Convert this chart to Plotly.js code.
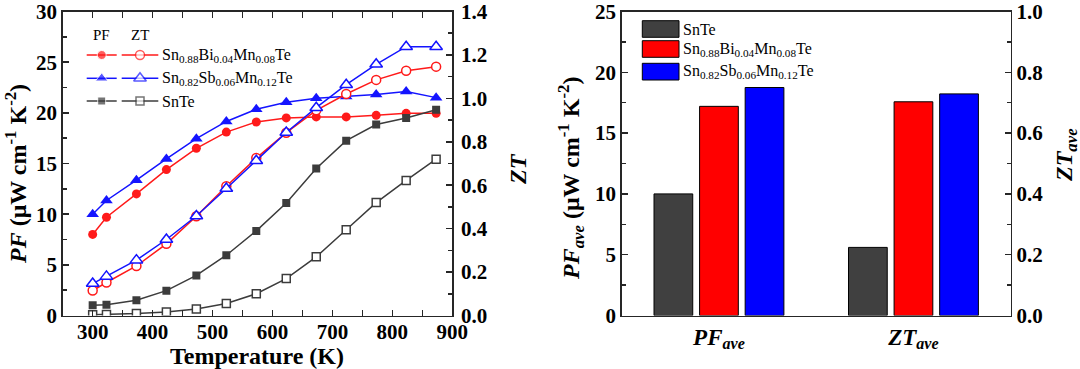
<!DOCTYPE html>
<html><head><meta charset="utf-8">
<script src="https://cdn.plot.ly/plotly-3.0.1.min.js"></script>
<style>html,body{margin:0;padding:0;background:#fff}#chart{width:1080px;height:369px}</style>
</head><body><div id="chart"></div>
<script>
// ---------------- DATA ----------------
const temperatures = [300, 323, 373, 423, 473, 523, 573, 623, 673, 723, 773, 823, 873];
const pfBi   = [8.0, 9.7, 12.0, 14.4, 16.5, 18.1, 19.1, 19.5, 19.6, 19.6, 19.75, 19.95, 19.95];
const pfSb   = [10.0, 11.35, 13.35, 15.45, 17.45, 19.15, 20.35, 21.05, 21.45, 21.6, 21.8, 22.1, 21.5];
const pfSnTe = [1.0, 1.05, 1.5, 2.45, 3.95, 5.95, 8.35, 11.1, 14.5, 17.25, 18.85, 19.5, 20.3];
const ztBi   = [0.115, 0.152, 0.228, 0.33, 0.457, 0.595, 0.725, 0.842, 0.945, 1.02, 1.085, 1.127, 1.146];
const ztSb   = [0.147, 0.18, 0.255, 0.35, 0.458, 0.585, 0.713, 0.843, 0.957, 1.063, 1.157, 1.238, 1.238];
const ztSnTe = [0.004, 0.005, 0.009, 0.016, 0.03, 0.055, 0.1, 0.17, 0.27, 0.395, 0.52, 0.622, 0.72];

const seriesNames = ['SnTe', 'Sn<sub>0.88</sub>Bi<sub>0.04</sub>Mn<sub>0.08</sub>Te', 'Sn<sub>0.82</sub>Sb<sub>0.06</sub>Mn<sub>0.12</sub>Te'];
const barCategories = ['PFave', 'ZTave'];
const barTickLabels = ['<b><i>PF</i></b><sub><b><i>ave</i></b></sub>', '<b><i>ZT</i></b><sub><b><i>ave</i></b></sub>'];
const pfAve = [10.0, 17.2, 18.75];   // SnTe, Bi, Sb
const ztAve = [0.224, 0.703, 0.729]; // SnTe, Bi, Sb

const axisTitles = {
  temp: 'Temperature (K)',
  pf: '<i>PF</i> (μW cm<sup>-1</sup> K<sup>-2</sup>)',
  zt: '<i>ZT</i>',
  pfAve: '<i>PF</i><sub><i>ave</i></sub> (μW cm<sup>-1</sup> K<sup>-2</sup>)',
  ztAve: '<i>ZT</i><sub><i>ave</i></sub>'
};

// ---------------- STYLE ----------------
const W = 1080, H = 369;
const px = x => x / W, py = y => 1 - y / H;
const FONT = 'Liberation Serif';
const AX = '#262626';
const RED = '#ff1a1a', BLUE = '#1414ff', GRAY = '#3c3c3c';
const barColors = ['#404040', '#ff0000', '#0000ff'];

const leftX = [px(62.7), px(452.3)], rightX = [px(621.7), px(1010.7)], plotY = [py(315.5), py(11.5)];

const lineSeries = [
  {pf: pfBi, zt: ztBi, color: RED, sym: 'circle', size: 9},
  {pf: pfSb, zt: ztSb, color: BLUE, sym: 'triangle-up', size: 11},
  {pf: pfSnTe, zt: ztSnTe, color: GRAY, sym: 'square', size: 8}
];

const traces = [];
lineSeries.forEach(s => {
  traces.push({x: temperatures, y: s.pf, xaxis: 'x', yaxis: 'y', mode: 'lines+markers', showlegend: false, hoverinfo: 'skip',
    line: {color: s.color, width: 1.5}, marker: {symbol: s.sym, size: s.size, color: s.color}});
  traces.push({x: temperatures, y: s.zt, xaxis: 'x', yaxis: 'y2', mode: 'lines+markers', showlegend: false, hoverinfo: 'skip',
    line: {color: s.color, width: 1.5}, marker: {symbol: s.sym, size: s.size, color: '#ffffff', line: {color: s.color, width: 1.5}}});
});

[0, 1, 2].forEach(i => {
  traces.push({type: 'bar', x: [barCategories[0]], y: [pfAve[i]], xaxis: 'x2', yaxis: 'y3', offsetgroup: 'g' + i, showlegend: false, hoverinfo: 'skip',
    marker: {color: barColors[i], line: {color: '#000', width: 1}}});
  traces.push({type: 'bar', x: [barCategories[1]], y: [ztAve[i]], xaxis: 'x2', yaxis: 'y4', offsetgroup: 'g' + i, showlegend: false, hoverinfo: 'skip',
    marker: {color: barColors[i], line: {color: '#000', width: 1}}});
});

// -------- legend glyphs (drawn on a hidden pixel-space overlay axis) --------
const legRowsL = [55, 78.3, 101];
const legendLineOrder = [0, 1, 2]; // Bi, Sb, SnTe
legendLineOrder.forEach((k, r) => {
  const s = lineSeries[k], y = legRowsL[r];
  traces.push({x: [86.7, 101.7, 116.7], y: [y, y, y], xaxis: 'x5', yaxis: 'y6', mode: 'lines+markers', showlegend: false, hoverinfo: 'skip',
    line: {color: s.color, width: 1.5}, marker: {symbol: s.sym, size: [0, s.size, 0], color: s.color}});
  traces.push({x: [121.7, 140, 158.3], y: [y, y, y], xaxis: 'x5', yaxis: 'y6', mode: 'lines+markers', showlegend: false, hoverinfo: 'skip',
    line: {color: s.color, width: 1.5}, marker: {symbol: s.sym, size: [0, s.size, 0], color: '#ffffff', line: {color: s.color, width: 1.5}}});
});
const legNamesL = [seriesNames[1], seriesNames[2], seriesNames[0]];
const legRowsR = [[20.7, 37.3], [40.7, 57.3], [63.3, 80]];

const annotations = [];
const shapes = [];
const tf = {family: FONT, size: 16, color: '#000'};
annotations.push({xref: 'x5', yref: 'y6', x: 101.7, y: 35, text: 'PF', showarrow: false, xanchor: 'center', yanchor: 'middle', font: {family: FONT, size: 15, color: '#000'}});
annotations.push({xref: 'x5', yref: 'y6', x: 140, y: 35, text: 'ZT', showarrow: false, xanchor: 'center', yanchor: 'middle', font: {family: FONT, size: 15, color: '#000'}});
legNamesL.forEach((n, r) => {
  annotations.push({xref: 'x5', yref: 'y6', x: 160, y: legRowsL[r], text: n, showarrow: false, xanchor: 'left', yanchor: 'middle', font: tf});
});
seriesNames.forEach((n, i) => {
  const [y0, y1] = legRowsR[i];
  shapes.push({type: 'rect', xref: 'x5', yref: 'y6', x0: 642.3, x1: 679, y0: y0, y1: y1, fillcolor: barColors[i], line: {color: '#000', width: 1}});
  annotations.push({xref: 'x5', yref: 'y6', x: 681, y: (y0 + y1) / 2, text: n, showarrow: false, xanchor: 'left', yanchor: 'middle', font: tf});
});

// axis titles placed as annotations (pixel overlay)
const titleFont = {family: FONT, size: 24, color: '#000', weight: 'bold'};
const addTitle = (text, x, y, angle) => annotations.push({xref: 'x5', yref: 'y6', x: x, y: y, text: text, textangle: angle, showarrow: false,
  xanchor: 'center', yanchor: 'middle', borderpad: 0, font: titleFont});
addTitle(axisTitles.temp, 257, 356, 0);
addTitle(axisTitles.pf, 16, 174, -90);
addTitle(axisTitles.zt, 518, 169, -90);
addTitle(axisTitles.pfAve, 571, 179, -90);
addTitle(axisTitles.ztAve, 1066, 155, -90);

const tickFont = {family: FONT, size: 21, color: '#000', weight: 'bold'};
const common = {showline: true, linecolor: AX, linewidth: 1.5, ticks: 'inside', ticklen: 6, tickwidth: 1.5, tickcolor: AX,
  showgrid: false, zeroline: false, tickfont: tickFont, fixedrange: true, ticklabeloverflow: 'allow'};
const minor = d => ({dtick: d, ticks: 'inside', ticklen: 4, tickwidth: 1.5, tickcolor: AX, showgrid: false});

const layout = {
  width: W, height: H, margin: {l: 0, r: 0, t: 0, b: 0},
  paper_bgcolor: '#fff', plot_bgcolor: 'rgba(0,0,0,0)',
  showlegend: false, barmode: 'group', bargap: 0.297, bargroupgap: 0.15,
  font: {family: FONT, color: '#000'},
  xaxis: Object.assign({}, common, {domain: leftX, anchor: 'y', range: [250, 900], tick0: 0, dtick: 100, minor: Object.assign(minor(50), {ticklen: 6}),
    mirror: 'allticks', ticklabelstandoff: -3}),
  yaxis: Object.assign({}, common, {domain: plotY, anchor: 'x', range: [0, 30], dtick: 5, minor: minor(2.5), mirror: true}),
  yaxis2: Object.assign({}, common, {overlaying: 'y', anchor: 'x', side: 'right', range: [0, 1.4], dtick: 0.2, minor: minor(0.1), tickformat: '.1f',
    ticklabelstandoff: 3}),
  xaxis2: Object.assign({}, common, {domain: rightX, anchor: 'y3', type: 'category', categoryarray: barCategories, range: [-0.5, 1.5],
    tickvals: barCategories, ticktext: barTickLabels, ticks: '', mirror: true, tickfont: {family: FONT, size: 23, color: '#000'}}),
  xaxis4: {overlaying: 'x2', anchor: 'y3', side: 'top', range: [-0.5, 1.5], tick0: -0.5, dtick: 0.125, ticks: 'inside', ticklen: 5, tickwidth: 1.5,
    tickcolor: AX, showticklabels: false, showline: false, showgrid: false, zeroline: false, fixedrange: true},
  yaxis3: Object.assign({}, common, {domain: plotY, anchor: 'x2', range: [0, 25], dtick: 5, minor: minor(2.5), mirror: true}),
  yaxis4: Object.assign({}, common, {overlaying: 'y3', anchor: 'x2', side: 'right', range: [0, 1.0], dtick: 0.2, minor: minor(0.1), tickformat: '.1f'}),
  xaxis5: {domain: [0, 1], anchor: 'y6', range: [0, W], visible: false, fixedrange: true},
  yaxis6: {domain: [0, 1], anchor: 'x5', range: [H, 0], visible: false, fixedrange: true},
  annotations: annotations, shapes: shapes
};

Plotly.newPlot('chart', traces, layout, {displayModeBar: false, staticPlot: true});
</script></body></html>
